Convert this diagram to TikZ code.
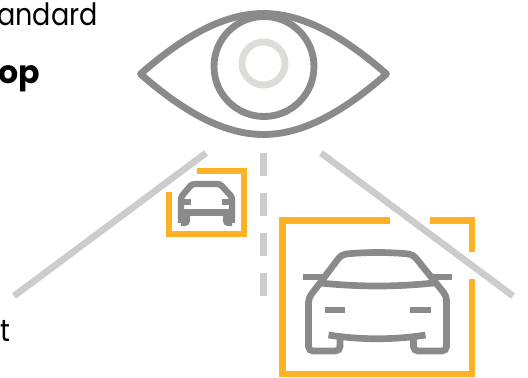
\documentclass[tikz,border=0pt]{standalone}
\usepackage{fontspec}
\setmainfont{Poppins}
\newfontfamily\narrowfont[FakeStretch=0.88]{Poppins}
\definecolor{eyegray}{HTML}{8A8A8C}
\definecolor{pupil}{HTML}{DDDCD8}
\definecolor{road}{HTML}{CCCCCC}
\definecolor{frame}{HTML}{FDB124}
\tikzset{
  eye/.style={draw=eyegray,line width=3.9pt,line join=round},
  car/.style={draw=eyegray,line width=3.8pt,rounded corners=2.5pt},
  carsm/.style={draw=eyegray,line width=3.6pt,rounded corners=1.5pt},
  lane/.style={draw=road,line width=3.8pt},
  box/.style={draw=frame,line width=3.8pt},
  txt/.style={anchor=base west,inner sep=0pt,font=\narrowfont\fontsize{17.5}{20}\selectfont,text=black},
}

\begin{document}
\begin{tikzpicture}[x=0.02cm,y=-0.02cm]
\useasboundingbox (0,0) rectangle (528,378);
\node[txt] (std) at (-3,25.5){andard}; \node[txt,font=\fontsize{18}{20}\selectfont\bfseries] (op) at (-2,84){op};
\node[txt] (tt) at (0,342){t};
% eye
\draw[eye] (140.5,74) .. controls (185,35) and (225,13.5) .. (263.5,13.5) .. controls (302,13.5) and (342,35) .. (386.5,74)
  .. controls (342,113) and (302,134.5) .. (263.5,134.5) .. controls (225,134.5) and (185,113) .. cycle;
\draw[eye] (264,66.5) circle[radius=50];
\draw[eye,draw=pupil] (263.5,63.5) circle[radius=21.5];
% road
\draw[lane] (206,153)--(14,296); \draw[lane] (321,153)--(513,296);
\foreach \y in {153,193,233,273}{\draw[lane,line width=4pt] (263.5,\y)--(263.5,\y+23);}
% small car
\draw[box] (197,171)--(244,171)--(244,234)--(169,234)--(169,192);
\draw[carsm] (181,223)--(181,197)--(192,184)--(220,184)--(232,197)--(232,223);
\draw[carsm] (181,202)--(191,202); \draw[carsm] (232,202)--(222,202);
\draw[carsm] (181,212.5)--(232,212.5);
\draw[carsm] (181,223)--(187,223)--(187,212.5); \draw[carsm] (232,223)--(226,223)--(226,212.5);
% big car
\draw[box] (390,220.5)--(282.5,220.5)--(282.5,374)--(472,374)--(472,279);
\draw[box] (430,220.5)--(472,220.5)--(472,252);
\draw[car] (340,339)--(340,351)--(308.5,351)--(308.5,298)--(320,283)--(341.5,254.5)
  .. controls (365,252) and (390,252) .. (413,254.5)--(433.5,280)--(446.5,296)--(446.5,351)--(413.5,351)--(413.5,339);
\draw[car] (320,283) .. controls (360,287) and (395,287) .. (434,283);
\draw[car] (303,277)--(323,277); \draw[car] (431,277)--(451.5,277);
\draw[car] (324.5,310)--(345,310); \draw[car] (410,310)--(430.5,310);
\draw[car] (328.5,335) .. controls (360,340) and (395,340) .. (425.5,335);
\end{tikzpicture}
\end{document}
